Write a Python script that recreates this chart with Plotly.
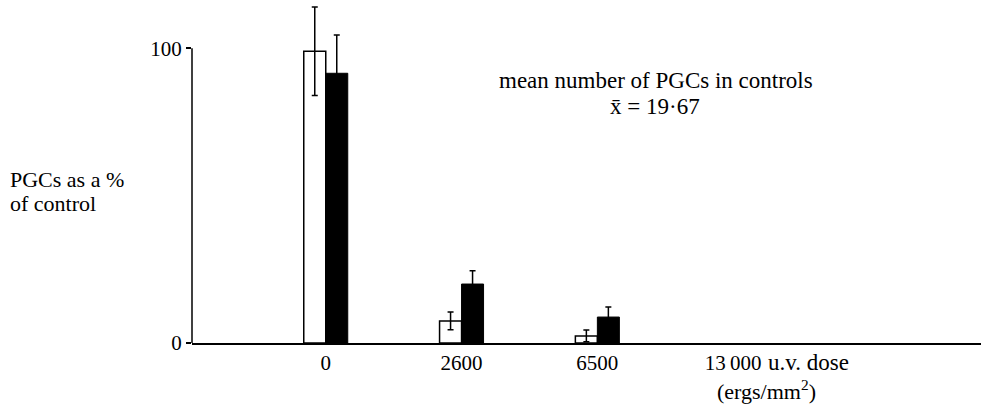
import plotly.graph_objects as go

# Data
doses = ["0", "2600", "6500", "13\u2009000"]
open_vals = [99, 7.5, 2.4, None]
open_err = [15, 3, 2, None]
filled_vals = [91.5, 20, 8.8, None]
filled_err = [13, 4.5, 3.4, None]
y_tick_vals = [0, 100]
y_tick_text = ["0", "100"]

FONT = "Liberation Serif, Times New Roman, serif"
FS_TICK = 21
FS_TXT = 22

AX_X = 192   # pixel x of y axis
AX_Y = 343   # pixel y of x axis


def ann_px(text, px, py, size=FS_TXT, anchor="left"):
    return dict(text=text, xref="paper", yref="paper", x=0, y=0,
                xshift=px - AX_X, yshift=AX_Y - py, xanchor=anchor, yanchor="middle",
                showarrow=False, font=dict(family=FONT, size=size, color="black"))


fig = go.Figure()
fig.add_trace(go.Bar(
    x=doses, y=open_vals, name="open",
    marker=dict(color="white", line=dict(color="black", width=1.5)),
    error_y=dict(type="data", array=open_err, color="black", thickness=1.5, width=3),
))
fig.add_trace(go.Bar(
    x=doses, y=filled_vals, name="filled",
    marker=dict(color="black", line=dict(color="black", width=1)),
    error_y=dict(type="data", array=filled_err, color="black", thickness=1.5, width=3),
))

# y axis line only from 0 to 100
fig.add_shape(type="line", xref="paper", yref="y", x0=0, x1=0, y0=0, y1=100,
              line=dict(color="black", width=1.5))

annotations = [
    ann_px("PGCs as a %", 8, 179),
    ann_px("of control", 8, 203),
    ann_px("mean number of PGCs in controls", 656, 80, size=23, anchor="center"),
    ann_px("x\u0304 = 19\u00b767", 655, 106, size=23, anchor="center"),
    dict(text="u.v. dose", xref="x", yref="paper", x=3, y=0,
         xshift=33, yshift=-(362 - AX_Y), xanchor="left", yanchor="middle",
         showarrow=False, font=dict(family=FONT, size=23, color="black")),
    dict(text="(ergs/mm<sup>2</sup>)", xref="x", yref="paper", x=3, y=0,
         xshift=-18, yshift=-(390 - AX_Y), xanchor="left", yanchor="middle",
         showarrow=False, font=dict(family=FONT, size=FS_TXT, color="black")),
]

fig.update_layout(
    width=981, height=406,
    margin=dict(l=AX_X, r=0, t=4, b=406 - AX_Y),
    paper_bgcolor="white", plot_bgcolor="white",
    barmode="group", bargap=0.676, bargroupgap=0,
    showlegend=False,
    font=dict(family=FONT, size=FS_TICK, color="black"),
    xaxis=dict(
        type="category", range=[-0.985, 4.825],
        showline=True, linecolor="black", linewidth=1.5,
        showgrid=False, zeroline=False, ticks="",
        tickfont=dict(family=FONT, size=FS_TICK, color="black"),
    ),
    yaxis=dict(
        range=[0, 115], showline=False, showgrid=False, zeroline=False,
        tickvals=y_tick_vals, ticktext=y_tick_text,
        ticks="outside", ticklen=5, tickwidth=1.5, tickcolor="black",
        tickfont=dict(family=FONT, size=FS_TICK, color="black"),
    ),
    annotations=annotations,
)

fig.write_html("out.html")
